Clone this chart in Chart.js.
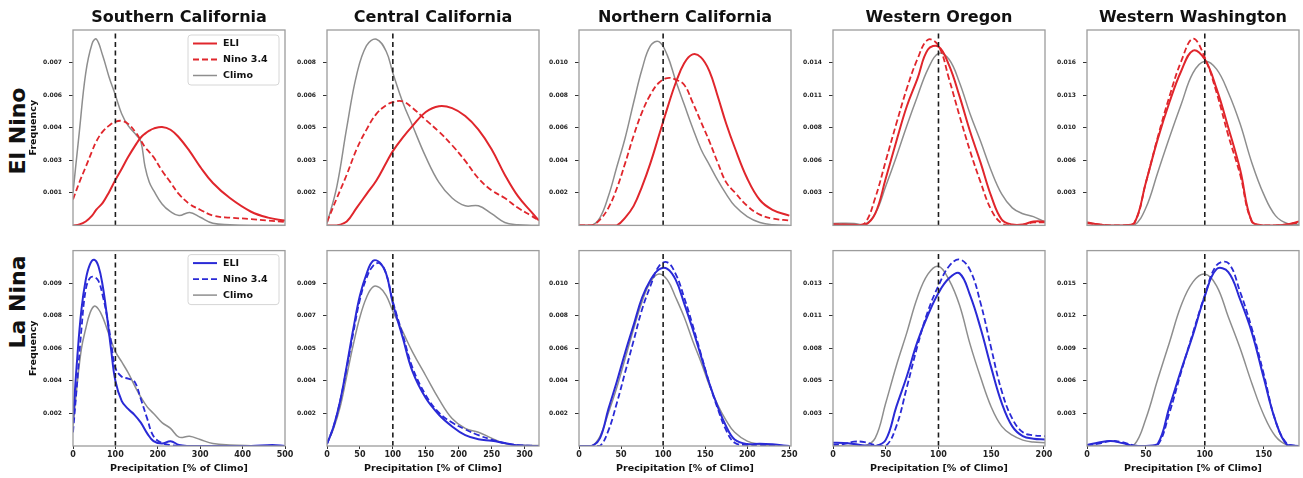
<!DOCTYPE html>
<html>
<head>
<meta charset="utf-8">
<script src="https://cdn.jsdelivr.net/npm/chart.js@4.4.1/dist/chart.umd.min.js"></script>
<style>
  body { margin: 0; background: #fff; width: 1303px; height: 478px; overflow: hidden; position: relative; font-family: "DejaVu Sans", sans-serif; }
  .rowlab { position: absolute; font-weight: bold; font-size: 22px; color: #111; white-space: nowrap;
            transform: translate(-50%, -50%) rotate(-90deg); }
</style>
</head>
<body>
<div class="rowlab" style="left:17px;top:131px">El Nino</div>
<div class="rowlab" style="left:17px;top:302px">La Nina</div>
<script>
const regions = ['Southern California', 'Central California', 'Northern California', 'Western Oregon', 'Western Washington'];
const xMax = [500, 322, 252, 201, 180];
const xTicks = [[0, 100, 200, 300, 400, 500], [0, 50, 100, 150, 200, 250, 300], [0, 50, 100, 150, 200, 250], [0, 50, 100, 150, 200], [0, 50, 100, 150]];
const climoLine = 100;

// y ticks: spacing between ticks and the (rounded) labels as printed
const ninoTickStep = [0.00143, 0.00156, 0.002, 0.00278, 0.0032];
const ninaTickStep = [0.00188, 0.00178, 0.002, 0.00266, 0.003];
const ninoTickLabels = [
  ['0.001', '0.003', '0.004', '0.006', '0.007'],
  ['0.002', '0.003', '0.005', '0.006', '0.008'],
  ['0.002', '0.004', '0.006', '0.008', '0.010'],
  ['0.003', '0.006', '0.008', '0.011', '0.014'],
  ['0.003', '0.006', '0.010', '0.013', '0.016']
];
const ninaTickLabels = [
  ['0.002', '0.004', '0.006', '0.008', '0.009'],
  ['0.002', '0.004', '0.005', '0.007', '0.009'],
  ['0.002', '0.004', '0.006', '0.008', '0.010'],
  ['0.003', '0.005', '0.008', '0.011', '0.013'],
  ['0.003', '0.006', '0.009', '0.012', '0.015']
];

// El Nino
const socalNinoX = [0, 15, 30, 45, 55, 70, 85, 100, 115, 130, 150, 160, 170, 180, 190, 210, 230, 250, 275, 300, 330, 370, 420, 460, 500];
const socalNinoEli = [0, 0.00004, 0.00017, 0.00043, 0.00069, 0.00099, 0.00146, 0.002, 0.00249, 0.003, 0.0036, 0.00386, 0.00403, 0.00416, 0.00425, 0.00432, 0.0042, 0.00386, 0.00326, 0.00257, 0.00186, 0.0012, 0.0006, 0.00034, 0.00021];
const socalNinoN34 = [0.00114, 0.00189, 0.00257, 0.00326, 0.00369, 0.00412, 0.00438, 0.00455, 0.00459, 0.00446, 0.00403, 0.00373, 0.00343, 0.00322, 0.003, 0.0024, 0.00189, 0.00137, 0.00094, 0.00069, 0.00043, 0.00034, 0.00028, 0.00021, 0.00015];
const socalNinoClimo = [0.00143, 0.00412, 0.00669, 0.00798, 0.00818, 0.00746, 0.00652, 0.00572, 0.00489, 0.00438, 0.00395, 0.00369, 0.00257, 0.00189, 0.00154, 0.00094, 0.0006, 0.00043, 0.00057, 0.00036, 0.00009, 0.00003, 0, 0, 0];

const cencalNinoX = [0, 15, 30, 45, 60, 75, 90, 100, 115, 130, 150, 170, 190, 210, 230, 250, 270, 290, 310, 322];
const cencalNinoEli = [0, 0, 0.00019, 0.00084, 0.0015, 0.00215, 0.003, 0.00356, 0.00421, 0.00477, 0.00543, 0.00571, 0.00562, 0.00524, 0.00459, 0.00365, 0.00243, 0.0014, 0.00066, 0.00023];
const cencalNinoN34 = [0.00016, 0.00131, 0.00243, 0.00365, 0.00459, 0.00534, 0.00576, 0.0059, 0.00594, 0.00562, 0.00505, 0.00449, 0.00384, 0.00309, 0.00225, 0.00168, 0.00131, 0.00084, 0.00047, 0.00023];
const cencalNinoClimo = [0.00009, 0.00187, 0.00468, 0.00721, 0.00861, 0.00892, 0.00833, 0.0073, 0.0059, 0.00477, 0.00328, 0.00206, 0.00131, 0.00094, 0.00094, 0.00056, 0.00014, 0.00003, 0, 0];

const norcalNinoX = [0, 15, 25, 35, 45, 55, 65, 75, 85, 95, 105, 115, 125, 135, 145, 155, 165, 175, 185, 200, 215, 230, 250];
const norcalNinoEli = [0, 0, 0, 0, 0, 0.00048, 0.0012, 0.0024, 0.00384, 0.00552, 0.0072, 0.00876, 0.00996, 0.0105, 0.01032, 0.00948, 0.00792, 0.00624, 0.0048, 0.00288, 0.00156, 0.00096, 0.0006];
const norcalNinoN34 = [0, 0, 0.00036, 0.00108, 0.00228, 0.00384, 0.00552, 0.00696, 0.00804, 0.00876, 0.00905, 0.00895, 0.00864, 0.00756, 0.00636, 0.00516, 0.00384, 0.00264, 0.00204, 0.0012, 0.00066, 0.00042, 0.0003];
const norcalNinoClimo = [0, 0, 0.00048, 0.0018, 0.0036, 0.0054, 0.00756, 0.0096, 0.01104, 0.01128, 0.01044, 0.00888, 0.00744, 0.006, 0.00468, 0.00372, 0.00276, 0.00192, 0.0012, 0.00054, 0.00018, 0.00004, 0];

const oregonNinoX = [0, 20, 30, 40, 50, 60, 70, 80, 90, 100, 110, 120, 130, 140, 150, 160, 170, 180, 190, 201];
const oregonNinoEli = [0.00008, 0.00005, 0, 0.001, 0.004, 0.00717, 0.01017, 0.01251, 0.01501, 0.01526, 0.01368, 0.01101, 0.00801, 0.00534, 0.0025, 0.0005, 0.00008, 0.00008, 0.00033, 0.00033];
const oregonNinoN34 = [0.00008, 0.00005, 0.00017, 0.00234, 0.0055, 0.00867, 0.01168, 0.01418, 0.01585, 0.01535, 0.01251, 0.00934, 0.00634, 0.00367, 0.00133, 0.00017, 0, 0.00005, 0.00025, 0.00025];
const oregonNinoClimo = [0.00017, 0.00017, 0.00008, 0.001, 0.00334, 0.00584, 0.00851, 0.01101, 0.01334, 0.01468, 0.01418, 0.01218, 0.00951, 0.00717, 0.00467, 0.00267, 0.0015, 0.001, 0.00075, 0.00028];

const washNinoX = [0, 10, 20, 30, 40, 50, 60, 70, 80, 90, 100, 110, 120, 130, 140, 150, 160, 170, 180];
const washNinoEli = [0.00029, 0.0001, 0, 0, 0.00019, 0.00422, 0.00845, 0.0121, 0.01517, 0.01718, 0.01632, 0.01344, 0.0096, 0.0055, 0.00038, 0, 0, 0.0001, 0.00038];
const washNinoN34 = [0.00019, 0.0001, 0, 0, 0.00019, 0.00422, 0.00864, 0.01267, 0.01613, 0.01834, 0.0165, 0.01306, 0.00883, 0.005, 0.00038, 0, 0, 0.0001, 0.00029];
const washNinoClimo = [0.00029, 0.0001, 0, 0, 0, 0.00173, 0.00518, 0.00864, 0.0119, 0.01498, 0.01613, 0.01536, 0.01306, 0.00998, 0.00614, 0.00307, 0.00096, 0.00019, 0.0001];

// La Nina
const socalNinaX = [0, 10, 20, 30, 40, 50, 60, 70, 80, 90, 100, 115, 130, 145, 160, 175, 190, 210, 230, 250, 275, 300, 330, 370, 420, 470, 500];
const socalNinaEli = [0.0015, 0.00508, 0.0079, 0.00959, 0.01049, 0.01075, 0.01038, 0.00925, 0.00752, 0.00553, 0.00376, 0.00259, 0.00214, 0.0018, 0.00135, 0.00073, 0.00028, 0.00014, 0.00028, 0.00006, 0, 0, 0, 0, 0, 0.00006, 0];
const socalNinaN34 = [0.00079, 0.00372, 0.00677, 0.00902, 0.0097, 0.00976, 0.00953, 0.00869, 0.00752, 0.00598, 0.00451, 0.004, 0.00389, 0.00372, 0.00271, 0.00158, 0.00056, 0.00017, 0.00006, 0, 0, 0, 0, 0, 0, 0, 0];
const socalNinaClimo = [0.00113, 0.00361, 0.00564, 0.00677, 0.00767, 0.00807, 0.0079, 0.00744, 0.00677, 0.00609, 0.00545, 0.00485, 0.00423, 0.0035, 0.00282, 0.00226, 0.00188, 0.00135, 0.00102, 0.00051, 0.00056, 0.00037, 0.00015, 0.00006, 0.00002, 0, 0];

const cencalNinaX = [0, 10, 20, 30, 40, 50, 60, 70, 80, 90, 100, 115, 130, 150, 170, 190, 210, 230, 250, 270, 290, 322];
const cencalNinaEli = [0.00011, 0.00107, 0.00246, 0.00438, 0.00641, 0.00822, 0.0094, 0.01012, 0.01003, 0.0094, 0.0078, 0.00593, 0.00406, 0.00262, 0.00171, 0.00107, 0.00059, 0.00037, 0.00029, 0.00016, 0.00003, 0];
const cencalNinaN34 = [0.00011, 0.00107, 0.00246, 0.00427, 0.00619, 0.00801, 0.00918, 0.00985, 0.00999, 0.0094, 0.0079, 0.00609, 0.00427, 0.00278, 0.00182, 0.00128, 0.00091, 0.00059, 0.00035, 0.00016, 0.00005, 0];
const cencalNinaClimo = [0.00011, 0.00096, 0.00214, 0.00384, 0.00555, 0.00705, 0.00812, 0.0087, 0.00865, 0.00822, 0.00737, 0.00625, 0.00513, 0.00384, 0.00256, 0.0015, 0.00096, 0.00075, 0.00043, 0.00013, 0.00005, 0.00003];

const norcalNinaX = [0, 15, 25, 35, 45, 55, 65, 75, 85, 95, 105, 115, 125, 135, 145, 155, 165, 175, 185, 200, 215, 230, 250];
const norcalNinaEli = [0, 0, 0.00048, 0.00228, 0.00396, 0.00576, 0.00744, 0.00912, 0.0102, 0.01084, 0.01088, 0.0102, 0.00876, 0.0072, 0.00552, 0.00384, 0.0024, 0.0012, 0.0004, 0.00012, 0.00014, 0.0001, 0];
const norcalNinaN34 = [0, 0, 0, 0.00096, 0.00264, 0.00456, 0.00648, 0.0084, 0.00984, 0.01104, 0.01128, 0.01056, 0.00912, 0.00744, 0.00564, 0.00384, 0.00228, 0.00096, 0.0002, 0.00006, 0.00006, 0.00004, 0];
const norcalNinaClimo = [0, 0, 0.0006, 0.00204, 0.0036, 0.0054, 0.0072, 0.00888, 0.01008, 0.01056, 0.0102, 0.00912, 0.00792, 0.00648, 0.00516, 0.00372, 0.00252, 0.00156, 0.00084, 0.0003, 0.0001, 0, 0];

const oregonNinaX = [0, 10, 20, 30, 40, 50, 60, 70, 80, 90, 100, 110, 120, 130, 140, 150, 160, 170, 180, 190, 201];
const oregonNinaEli = [0.00027, 0.00024, 0.00016, 0.00005, 0, 0.0005, 0.0032, 0.0057, 0.0085, 0.0107, 0.0125, 0.0137, 0.0141, 0.0123, 0.0096, 0.0064, 0.0035, 0.0016, 0.0008, 0.0006, 0.00053];
const oregonNinaN34 = [0.00008, 0.00016, 0.00035, 0.00032, 0.00008, 0, 0.0016, 0.00479, 0.00814, 0.01101, 0.01309, 0.01468, 0.01524, 0.01436, 0.01165, 0.00798, 0.00447, 0.00223, 0.00112, 0.00088, 0.0008];
const oregonNinaClimo = [0, 0, 0, 0, 0.00064, 0.00351, 0.00654, 0.00926, 0.01213, 0.01404, 0.01468, 0.01357, 0.01149, 0.0083, 0.00559, 0.00319, 0.0016, 0.00088, 0.00048, 0.00032, 0.00027];

const washNinaX = [0, 10, 20, 30, 40, 50, 60, 70, 80, 90, 100, 110, 120, 130, 140, 150, 160, 170, 180];
const washNinaEli = [0.00009, 0.00032, 0.00045, 0.00027, 0, 0, 0.00018, 0.0036, 0.00702, 0.01026, 0.0138, 0.01629, 0.01602, 0.0135, 0.01044, 0.0063, 0.00234, 0.00009, 0];
const washNinaN34 = [0.00005, 0.00022, 0.00045, 0.00036, 0.00005, 0, 0.00009, 0.00306, 0.00684, 0.01044, 0.01386, 0.01665, 0.01685, 0.0142, 0.0108, 0.00666, 0.00234, 0.00018, 0];
const washNinaClimo = [0.00009, 0, 0, 0, 0.00009, 0.00252, 0.00612, 0.00954, 0.01296, 0.01512, 0.01584, 0.01476, 0.01188, 0.009, 0.00576, 0.00288, 0.0009, 0.00009, 0];

const ninoPanels = [
  [socalNinoX, socalNinoEli, socalNinoN34, socalNinoClimo],
  [cencalNinoX, cencalNinoEli, cencalNinoN34, cencalNinoClimo],
  [norcalNinoX, norcalNinoEli, norcalNinoN34, norcalNinoClimo],
  [oregonNinoX, oregonNinoEli, oregonNinoN34, oregonNinoClimo],
  [washNinoX, washNinoEli, washNinoN34, washNinoClimo]
];
const ninaPanels = [
  [socalNinaX, socalNinaEli, socalNinaN34, socalNinaClimo],
  [cencalNinaX, cencalNinaEli, cencalNinaN34, cencalNinaClimo],
  [norcalNinaX, norcalNinaEli, norcalNinaN34, norcalNinaClimo],
  [oregonNinaX, oregonNinaEli, oregonNinaN34, oregonNinaClimo],
  [washNinaX, washNinaEli, washNinaN34, washNinaClimo]
];

Chart.defaults.font.family = '"DejaVu Sans", sans-serif';
Chart.defaults.font.weight = 'bold';

const frameLeft = [73, 327, 579, 833, 1087];
const frameTop = [30, 246];
const plotW = 212, plotH = 200;

function pts(xs, ys) {
  return xs.map((x, i) => ({ x: x, y: ys[i] }));
}

// box around the plot area, like matplotlib spines
const framePlugin = {
  id: 'frame',
  afterDatasetsDraw(chart) {
    const a = chart.chartArea, ctx = chart.ctx;
    ctx.save();
    ctx.strokeStyle = '#9c9c9c';
    ctx.lineWidth = 1.3;
    ctx.strokeRect(a.left, a.top, a.right - a.left, a.bottom - a.top);
    ctx.restore();
  }
};

// legend drawn inside the plot, upper right
const boxLegend = {
  id: 'boxLegend',
  afterDraw(chart, args, opts) {
    if (!opts.show) return;
    const a = chart.chartArea, ctx = chart.ctx;
    const w = 91, h = 50;
    const left = a.right - w - 6, top = a.top + opts.top;
    ctx.save();
    ctx.fillStyle = 'rgba(255,255,255,0.85)';
    ctx.strokeStyle = '#d6d6d6';
    ctx.lineWidth = 1;
    ctx.beginPath();
    ctx.roundRect(left, top, w, h, 3);
    ctx.fill();
    ctx.stroke();
    chart.data.datasets.filter(d => d.inLegend).forEach((d, i) => {
      const y = top + 8.5 + i * 16;
      ctx.strokeStyle = d.borderColor;
      ctx.lineWidth = d.borderWidth;
      ctx.setLineDash(d.borderDash || []);
      ctx.beginPath();
      ctx.moveTo(left + 5, y);
      ctx.lineTo(left + 29, y);
      ctx.stroke();
      ctx.setLineDash([]);
      ctx.fillStyle = '#111';
      ctx.font = 'bold 9.5px "DejaVu Sans"';
      ctx.textBaseline = 'middle';
      ctx.fillText(d.label, left + 35, y);
    });
    ctx.restore();
  }
};

function makeChart(row, col) {
  const p = (row === 0 ? ninoPanels : ninaPanels)[col];
  const color = row === 0 ? '#e0262c' : '#2a2ad6';
  const step = (row === 0 ? ninoTickStep : ninaTickStep)[col];
  const labels = (row === 0 ? ninoTickLabels : ninaTickLabels)[col];
  const yMax = step * 6;
  const axisW = col === 0 ? 73 : 45;
  const padTop = row === 0 ? 0 : 6;
  const titleH = row === 0 ? 26 : 0;
  const xAxisH = row === 0 ? 6 : 30;
  const W = axisW + plotW + 12, H = padTop + titleH + plotH + xAxisH;

  const canvas = document.createElement('canvas');
  canvas.width = W;
  canvas.height = H;
  canvas.style.cssText = `position:absolute;left:${frameLeft[col] - axisW}px;top:${frameTop[row] - padTop - titleH}px;width:${W}px;height:${H}px`;
  document.body.appendChild(canvas);

  new Chart(canvas, {
    type: 'line',
    data: {
      datasets: [
        { label: 'climo100', data: [{ x: climoLine, y: 0 }, { x: climoLine, y: yMax }], borderColor: '#1c1c1c', borderWidth: 1.6, borderDash: [5, 3.5], tension: 0 },
        { label: 'ELI', inLegend: true, data: pts(p[0], p[1]), borderColor: color, borderWidth: 2 },
        { label: 'Nino 3.4', inLegend: true, data: pts(p[0], p[2]), borderColor: color, borderWidth: 1.8, borderDash: [6, 3] },
        { label: 'Climo', inLegend: true, data: pts(p[0], p[3]), borderColor: '#8e8e8e', borderWidth: 1.5 }
      ]
    },
    options: {
      responsive: false,
      animation: false,
      events: [],
      datasets: { line: { pointRadius: 0, fill: false, tension: 0.4 } },
      layout: { padding: { top: padTop, right: 12, left: 0, bottom: 0 } },
      plugins: {
        legend: { display: false },
        tooltip: { enabled: false },
        title: {
          display: row === 0, text: regions[col], fullSize: false, color: '#111',
          font: { size: 16, weight: 'bold' }, padding: { top: 4, bottom: 2.8 }
        },
        boxLegend: { show: col === 0, top: row === 0 ? 5 : 4 }
      },
      scales: {
        x: {
          type: 'linear', min: 0, max: xMax[col],
          border: { display: false },
          grid: { display: row === 1, drawOnChartArea: false, drawTicks: true, tickLength: 3, color: '#333' },
          ticks: { display: row === 1, padding: 1, color: '#222', font: { size: 8, weight: 'bold' } },
          afterBuildTicks: s => { s.ticks = xTicks[col].map(v => ({ value: v })); },
          afterFit: s => { s.height = xAxisH; },
          title: {
            display: row === 1, text: 'Precipitation [% of Climo]', color: '#111',
            font: { size: 9.5, weight: 'bold' }, padding: { top: 0, bottom: 1.5 }
          }
        },
        y: {
          type: 'linear', min: 0, max: yMax,
          border: { display: false },
          grid: { drawOnChartArea: false, drawTicks: true, tickLength: 4, color: '#333' },
          ticks: { padding: 7, color: '#222', font: { size: 6, weight: 'bold' }, callback: (v, i) => labels[i] },
          afterBuildTicks: s => { s.ticks = labels.map((t, i) => ({ value: step * (i + 1) })); },
          afterFit: s => { s.width = axisW; },
          title: {
            display: col === 0, text: 'Frequency', color: '#111',
            font: { size: 9.5, weight: 'bold' }, padding: { top: 28, bottom: 0 }
          }
        }
      }
    },
    plugins: [framePlugin, boxLegend]
  });
}

for (let row = 0; row < 2; row++) {
  for (let col = 0; col < 5; col++) {
    makeChart(row, col);
  }
}
</script>
</body>
</html>
